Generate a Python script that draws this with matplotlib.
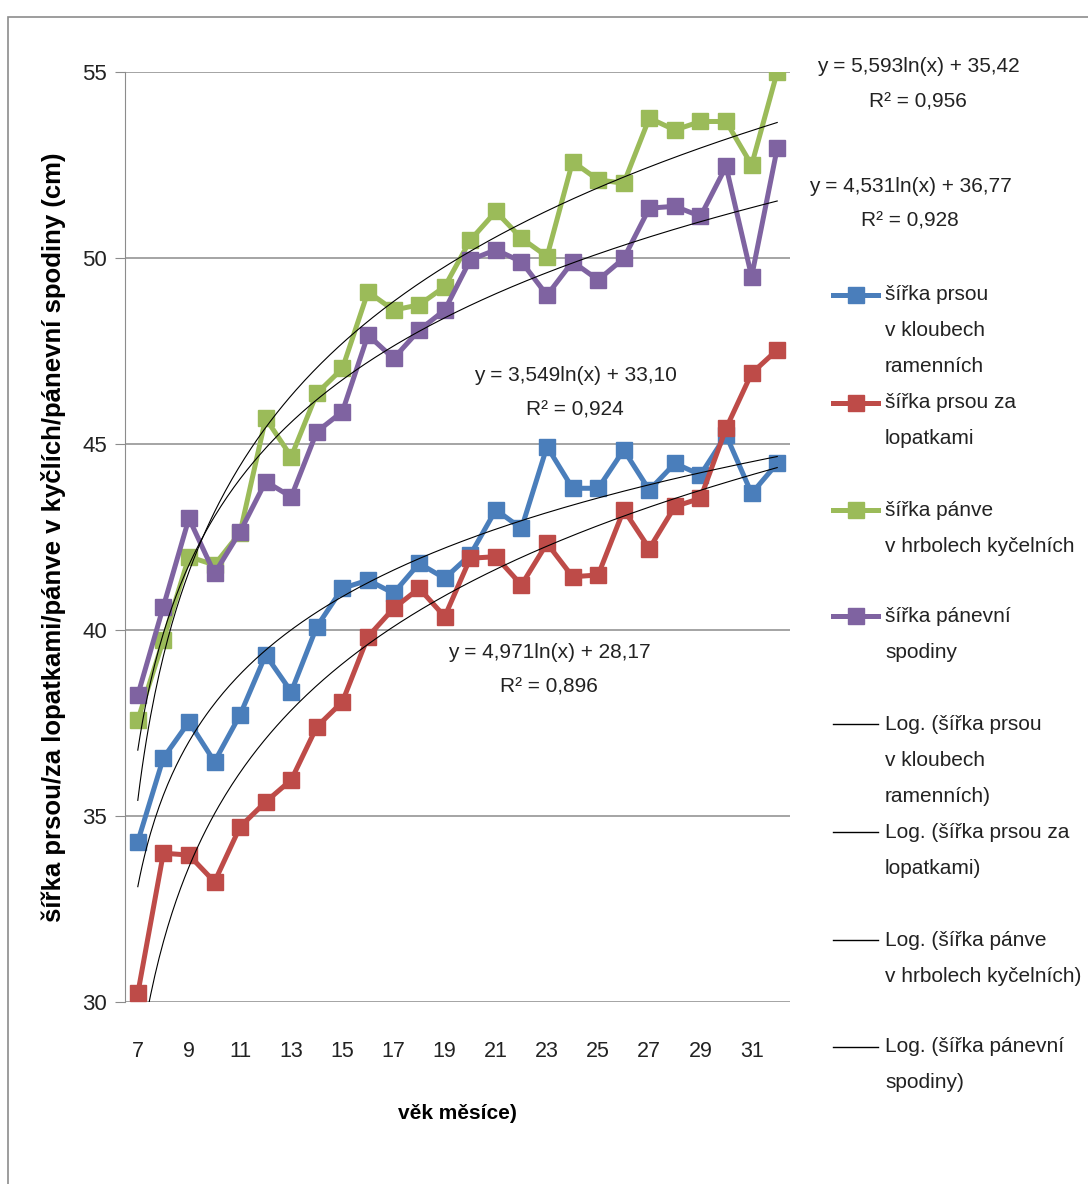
#!/usr/bin/env python3
"""Body width measurements by age in months, with log trendlines (Excel style)."""

import numpy as np
import matplotlib
matplotlib.use("Agg")
import matplotlib.pyplot as plt
from matplotlib.lines import Line2D
from matplotlib.patches import Rectangle

W, H = 1088, 1184
SANS = ["Liberation Sans", "DejaVu Sans"]
plt.rcParams["font.family"] = SANS

months = list(range(7, 33))

chest_shoulder = [34.31, 36.56, 37.53, 36.46, 37.72, 39.33, 38.34, 40.09, 41.12, 41.34,
                  40.99, 41.79, 41.39, 42.02, 43.23, 42.73, 44.93, 43.81, 43.81, 44.84,
                  43.76, 44.48, 44.17, 45.24, 43.67, 44.48]
chest_blades = [30.23, 34.00, 33.95, 33.23, 34.71, 35.38, 35.97, 37.40, 38.07, 39.82,
                40.58, 41.12, 40.36, 41.93, 41.97, 41.21, 42.33, 41.43, 41.48, 43.23,
                42.19, 43.32, 43.54, 45.42, 46.90, 47.53]
pelvis_hips = [37.58, 39.73, 41.97, 41.75, 42.62, 45.69, 44.66, 46.36, 47.03, 49.09,
               48.60, 48.74, 49.23, 50.48, 51.25, 50.53, 50.04, 52.59, 52.10, 52.01,
               53.76, 53.44, 53.67, 53.67, 52.50, 55.00]
pelvic_floor = [38.25, 40.63, 43.00, 41.52, 42.64, 43.99, 43.58, 45.33, 45.87, 47.93,
                47.30, 48.06, 48.60, 49.95, 50.22, 49.90, 49.00, 49.90, 49.41, 49.99,
                51.34, 51.39, 51.12, 52.46, 49.50, 52.95]

names = ["šířka prsou\nv kloubech\nramenních",
         "šířka prsou za\nlopatkami",
         "šířka pánve\nv hrbolech kyčelních",
         "šířka pánevní\nspodiny"]
colors = ["#4a7ebb", "#be4b48", "#9bbb59", "#7f63a1"]

# Excel log trendline coefficients (x = category index 1..26)
trend_a = [3.549, 4.971, 5.593, 4.531]
trend_b = [33.10, 28.17, 35.42, 36.77]
trend_eq = ["y = 3,549ln(x) + 33,10\nR² = 0,924",
            "y = 4,971ln(x) + 28,17\nR² = 0,896",
            "y = 5,593ln(x) + 35,42\nR² = 0,956",
            "y = 4,531ln(x) + 36,77\nR² = 0,928"]
eq_pos = [(575, 375), (549, 652), (918, 67), (910, 186)]


def fx(px):
    return px / W


def fy(py):
    return 1 - py / H


fig = plt.figure(figsize=(W / 100, H / 100), dpi=100)
ax = fig.add_axes([fx(125), fy(1002), fx(790) - fx(125), fy(72) - fy(1002)])

series = [chest_shoulder, chest_blades, pelvis_hips, pelvic_floor]
for vals, c in zip(series, colors):
    ax.plot(months, vals, color=c, linewidth=3.6, marker="s", markersize=11.5,
            zorder=3)

xs = np.linspace(months[0], months[-1], 300)
for a, b in zip(trend_a, trend_b):
    ax.plot(xs, a * np.log(xs - months[0] + 1) + b, color="black",
            linewidth=0.8, zorder=4)

ax.set_xlim(6.5, 32.5)
ax.set_ylim(30, 55)
ax.set_yticks([30, 35, 40, 45, 50, 55])
ax.set_xticks(months[::2])
ax.grid(axis="y", color="#8c8c8c", linewidth=1.1)
ax.set_axisbelow(True)
for s in ("top", "right", "bottom"):
    ax.spines[s].set_visible(False)
ax.spines["left"].set_color("#8c8c8c")
ax.tick_params(axis="y", length=7, color="#8c8c8c", pad=6, labelsize=16,
               labelcolor="#222222")
ax.tick_params(axis="x", length=0, pad=28, labelsize=15.5, labelcolor="#222222")

ax.set_xlabel("věk měsíce)", fontsize=15, fontweight="bold", labelpad=30)
ax.set_ylabel("šířka prsou/za lopatkami/pánve v kyčlích/pánevní spodiny (cm)",
              fontsize=18.5, fontweight="bold", labelpad=12)

for txt, (px, py) in zip(trend_eq, eq_pos):
    for k, line in enumerate(txt.split("\n")):
        fig.text(fx(px), fy(py + 35 * k), line, ha="center", va="center",
                 fontsize=15, color="#222222")

# legend: each entry gets a three-line slot, text top-aligned
leg_y = [295, 403, 510, 616, 724, 832, 940, 1047]
leg_labels = names + ["Log. (" + n + ")" for n in names]
leg_colors = colors + ["black"] * 4
for i, (lab, c, y0) in enumerate(zip(leg_labels, leg_colors, leg_y)):
    if i < 4:
        fig.add_artist(Line2D([fx(833), fx(878)], [fy(y0), fy(y0)], color=c,
                              linewidth=3.6, transform=fig.transFigure))
        fig.add_artist(Line2D([fx(855.5)], [fy(y0)], color=c, marker="s",
                              markersize=11.5, transform=fig.transFigure))
    else:
        fig.add_artist(Line2D([fx(833), fx(878)], [fy(y0), fy(y0)], color=c,
                              linewidth=1.0, transform=fig.transFigure))
    for k, line in enumerate(lab.split("\n")):
        fig.text(fx(885), fy(y0 + 36 * k), line, ha="left", va="center",
                 fontsize=15, color="#222222")

fig.add_artist(Rectangle((fx(8), -0.1), 1.2, fy(17) + 0.1, fill=False,
                         edgecolor="#8c8c8c", linewidth=1.2,
                         transform=fig.transFigure))

fig.savefig("out.png", dpi=100)
